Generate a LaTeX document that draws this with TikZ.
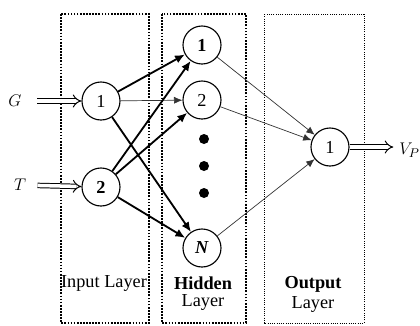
\documentclass[tikz,border=0pt]{standalone}
\usepackage{fontspec}
\setmainfont{Liberation Serif}
\usetikzlibrary{arrows.meta}

\begin{document}
\begin{tikzpicture}[x=0.025cm,y=-0.025cm]
\tikzstyle{every node}+=[inner sep=0pt,font=\fontsize{13}{15}\selectfont]
\tikzstyle{neuron}=[draw,circle,minimum size=0.95cm,line width=0.8pt]
\tikzstyle{layerbox}=[densely dotted,line width=1.2pt]
\tikzstyle{heavy link}=[-{Latex[length=7pt,width=6pt]},line width=1.3pt]
\tikzstyle{light link}=[-{Latex[length=6pt,width=5pt]},line width=0.5pt,gray!40!black]
\tikzstyle{io}=[double,double distance=2.5pt,line width=0.7pt,-{Implies}]
\useasboundingbox (0,0) rectangle (420,325);
% layer boxes
\draw [layerbox] (61,14) rectangle (149,323);
\draw [layerbox] (162,14) rectangle (246,323);
\draw [layerbox,line width=0.6pt] (264,14) rectangle (364,323);
% neurons
\node [neuron] (in1) at (101,101) {1};
\node [neuron] (in2) at (101,187) {\textbf{2}};
\node [neuron] (hid1) at (202,45) {\textbf{1}};
\node [neuron] (hid2) at (202,100) {2};
\node [neuron] (hidN) at (202,248) {\textbf{\textit{N}}};
\node [neuron] (out1) at (330,147) {1};
\fill (204,139) circle (5);
\fill (204,166) circle (5);
\fill (204,193) circle (5);
% inputs and output
\node (G) at (15,101) {$G$};
\node (T) at (20,185) {$T$};
\node [anchor=west] (Vp) at (399,150) {$V_P$};
\draw [io,shorten <=11pt] (G) -- (in1);
\draw [io,shorten <=8pt] (T) -- (in2);
\draw [io,shorten >=4pt] (out1) -- (Vp.west |- out1);
% input to hidden
\draw [heavy link] (in1) -- (hid1);
\draw [light link] (in1) -- (hid2);
\draw [heavy link] (in1) -- (hidN);
\draw [heavy link] (in2) -- (hid1);
\draw [heavy link] (in2) -- (hid2);
\draw [heavy link] (in2) -- (hidN);
% hidden to output
\draw [light link] (hid1) -- (out1);
\draw [light link] (hid2) -- (out1);
\draw [light link] (hidN) -- (out1);
% layer names
\node (inname) at (104,283) {Input Layer};
\node (hidname) at (203,283) {\textbf{Hidden}};
\node (hidname2) at (203,302) {Layer};
\node (outname) at (313,284) {\textbf{Output}};
\node (outname2) at (313,304) {Layer};
\end{tikzpicture}
\end{document}
